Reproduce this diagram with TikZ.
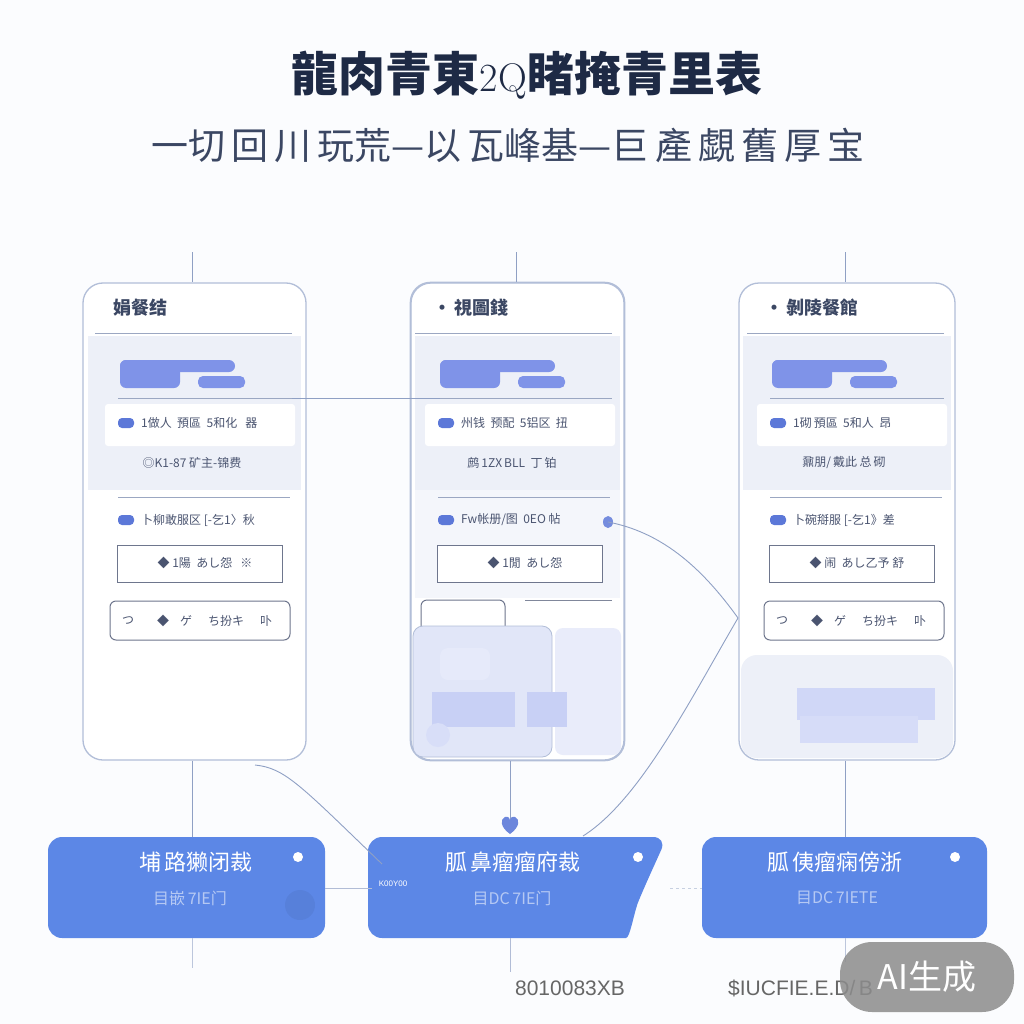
\documentclass[tikz,border=0pt]{standalone}
\usepackage{fontspec}
\newfontfamily\cjk{Noto Sans CJK SC}
\newfontfamily\lsans{Liberation Sans}
\usetikzlibrary{arrows.meta}
\definecolor{bg}{HTML}{FBFCFE}
\definecolor{navy}{HTML}{1E2A45}
\definecolor{subc}{HTML}{3B4763}
\definecolor{frame}{HTML}{B2BED8}
\definecolor{panel}{HTML}{EDF0F8}
\definecolor{pillc}{HTML}{7F93E8}
\definecolor{boxblue}{HTML}{5C87E6}
\definecolor{ink}{HTML}{4A5470}
\definecolor{lav}{HTML}{E1E6F8}
\definecolor{lavd}{HTML}{C8D0F5}
\definecolor{wire}{HTML}{8FA0C4}
\definecolor{sepc}{HTML}{9BA7C2}
\definecolor{iconc}{HTML}{5C78D8}
\tikzset{
  phone/.style={draw=frame, line width=1.3pt, rounded corners=20pt, fill=white, inner sep=0pt},
  wire/.style={draw=wire, line width=0.9pt},
  sepline/.style={draw=sepc, line width=1pt},
  small/.style={font=\cjk\fontsize{12}{14}\selectfont, text=ink, inner sep=0pt},
  hdr/.style={font=\cjk\bfseries\fontsize{18}{20}\selectfont, text=subc, inner sep=0pt},
  boxtxt/.style={font=\cjk\fontsize{22}{24}\selectfont, text=white, inner sep=0pt},
  boxsub/.style={font=\cjk\fontsize{16}{18}\selectfont, text=white, text opacity=0.55, inner sep=0pt},
  bluebox/.style={fill=boxblue, rounded corners=14pt, inner sep=0pt},
  outbox/.style={draw=ink!80, line width=1pt, fill=white},
}
% #1 prefix, #2 x offset, #3 header, #4 row1, #5 middle line, #6 row2, #7 button
\newcommand\phoneui[7]{%
  \begin{scope}[xshift=#2pt]
  \node[hdr, anchor=west] (#1hdr) at (113,308) {#3};
  \draw[sepline] (95,333) -- (292,333);
  \fill[pillc, rounded corners=6pt] (120,360) rectangle (235,372);
  \fill[pillc, rounded corners=6pt] (120,360) rectangle (180,388);
  \fill[pillc, rounded corners=5pt] (198,376) rectangle (245,388);
  \draw[sepline] (118,398) -- (292,398);
  \fill[white, rounded corners=3pt] (105,404) rectangle (295,446);
  \fill[iconc, rounded corners=4pt] (118,418) rectangle (134,428);
  \node[small, anchor=west] (#1r1) at (141,423) {#4};
  \node[small] (#1mid) at (192,463) {#5};
  \draw[sepline] (118,497) -- (290,497);
  \fill[iconc, rounded corners=4pt] (118,515) rectangle (134,525);
  \node[small, anchor=west] (#1r2) at (141,520) {#6};
  \draw[outbox] (117,545) rectangle (282,582);
  \node[small] (#1btn) at (205,563) {#7};
  \end{scope}
}
\newcommand\tabrow[2]{%
  \begin{scope}[xshift=#2pt]
  \draw[outbox, rounded corners=6pt] (110,601) rectangle (290,640);
  \node[small] (#1t1) at (128,621) {つ};
  \node[small] (#1t2) at (163,621) {◆};
  \node[small] (#1t3) at (186,621) {ゲ};
  \node[small] (#1t4) at (226,621) {ち扮キ};
  \node[small] (#1t5) at (266,621) {卟};
  \end{scope}
}
\begin{document}
\begin{tikzpicture}[x=1pt,y=-1pt]
\useasboundingbox (0,0) rectangle (1024,1024);
\fill[bg] (0,0) rectangle (1024,1024);

% titles
\node[font=\cjk\bfseries\fontsize{47}{50}\selectfont, text=navy, inner sep=0pt] (title) at (527,75)
  {龍肉青東{\normalfont\fontsize{40}{42}\selectfont 2Q}睹掩青里表};
\node[font=\cjk\fontsize{37}{40}\selectfont, text=subc, inner sep=0pt] (subtitle) at (508,145)
  {一切\,回\,川\,玩荒—以\,瓦峰基—巨\,產\,覷\,舊\,厚\,宝};

% phones
\node[phone, minimum width=223pt, minimum height=477pt] (p1) at (194.5,521.5) {};
\node[phone, minimum width=213pt, minimum height=477pt] (p2) at (517.5,521.5) {};
\node[phone, minimum width=216pt, minimum height=477pt] (p3) at (847,521.5) {};

% panels
\fill[panel] (88,336) rectangle (301,490);
\fill[panel] (415,336) rectangle (620,490);
\fill[panel!60!white] (415,490) rectangle (620,598);
\fill[panel] (743,336) rectangle (951,490);
\fill[panel, rounded corners=16pt] (741,655) rectangle (953,758);

\phoneui{a}{0}{娟餐结}{1做人\ \ 預區\ \ 5和化\ \ \ 器}{◎K1-87\ 矿主-锦费}{卜柳敢服区\ [-乞1〉秋}{◆\ 1陽\ \ あし怨\ \ \ ※}
\phoneui{b}{320}{•\,視圖錢}{州钱\ \ 预配\ \ 5铝区\ \ 扭}{鹧\,1ZX\,BLL\ \ 丁\,铂}{Fw帐册/图\ \ 0EO\ 帖}{◆\ 1閒\ \ あし怨}
\phoneui{c}{652}{•\,剝陵餐館}{1砌\,預區\ \ 5和人\ \ 昂}{鼐朋/\,戴此\ 总\,砌}{卜碗搿服\ [-乞1》差}{◆\ 闹\ \ あし乙予\ 舒}

\tabrow{a}{0}
\tabrow{c}{654}

% phone 2 bottom area
\draw[outbox, rounded corners=6pt] (421,600) rectangle (505,650);
\draw[ink!70, line width=1pt] (525,600) -- (612,600);
\fill[lav, draw=frame, line width=0.8pt, rounded corners=10pt] (413,626) rectangle (552,757);
\fill[lav!75!white, rounded corners=8pt] (555,628) rectangle (621,755);
\fill[lavd] (432,692) rectangle (515,727);
\fill[lavd] (527,692) rectangle (567,727);
\fill[lavd!70] (438,735) circle (12);
\fill[lavd!45, rounded corners=8pt] (440,648) rectangle (490,680);

% phone 3 bottom blocks
\fill[lavd!85] (797,688) rectangle (935,720);
\fill[lavd!75] (800,716) rectangle (918,743);

% phone borders on top
\draw[frame, line width=1.3pt, rounded corners=20pt] (p2.north west) rectangle (p2.south east);

% top stubs
\coordinate (t1) at (192,252);
\coordinate (t2) at (516,252);
\coordinate (t3) at (845,252);
\draw[wire] (t1) -- (t1 |- p1.north);
\draw[wire] (t2) -- (t2 |- p2.north);
\draw[wire] (t3) -- (t3 |- p3.north);

% blue boxes
\node[bluebox, minimum width=277pt, minimum height=101pt] (b1) at (186.5,887.5) {};
\fill[boxblue, rounded corners=14pt] (368,837) -- (667,837) -- (644,888)
   .. controls (634,912) and (630,938) .. (612,938) -- (368,938) -- cycle;
\coordinate (b2) at (515,887.5);
\node[bluebox, minimum width=285pt, minimum height=101pt] (b3) at (844.5,887.5) {};
\fill[black, opacity=0.05] (300,905) circle (15);

\node[boxtxt] (b1t) at (196,862) {埔\,路獭闭裁};
\node[boxsub] (b1s) at (190,898) {目嵌\,7IE门};
\node[boxtxt] (b2t) at (513,862) {胍\,鼻瘤瘤府裁};
\node[boxsub] (b2s) at (512,898) {目DC\,7IE门};
\node[boxtxt] (b3t) at (835,862) {胍\,侇瘤痫傍浙};
\node[boxsub] (b3s) at (837,898) {目DC\,7IETE};
\fill[white] (298,857) circle (5);
\fill[white] (638,857) circle (5);
\fill[white] (955,857) circle (5);

% vertical connectors phones -> boxes
\draw[wire] (p1.south -| 192,0) -- (b1.north -| 192,0);
\draw[wire] (p3.south -| 845,0) -- (b3.north -| 845,0);
\coordinate (h) at (510,834);
\draw[wire] (p2.south -| 510,0) -- (510,822);
\fill[iconc!90] (h) .. controls (500,827) and (500,819) .. (505,817) .. controls (508,816) and (510,818) .. (510,821)
   .. controls (510,818) and (512,816) .. (515,817) .. controls (520,819) and (520,827) .. (h);

% stubs below boxes
\draw[wire!60] (b1.south -| 192,0) -- (192,968);
\draw[wire!70] (510,938) -- (510,972);
\draw[wire!60] (b3.south -| 845,0) -- (845,962);

% horizontal links between boxes
\draw[wire!70] (b1.east |- 0,888) -- (372,888);
\node[font=\lsans\fontsize{8}{9}\selectfont, text=white, inner sep=0pt] (k) at (393,884) {K00Y00};
\draw[wire!50, dashed] (670,888) -- (b3.west |- 0,888);

% link phone1 -> phone2
\coordinate (c1) at (292,398);
\coordinate (c2) at (440,398);
\draw[wire] (c1) -- (c2);

% curve phone1 bottom -> box2
\coordinate (d1) at (255,765);
\coordinate (d2) at (382,864);
\draw[wire] (d1) .. controls (285,768) and (300,785) .. (d2);

% curve phone2 dot -> phone3 -> box2
\coordinate (e1) at (608,522);
\coordinate (e2) at (738,618);
\coordinate (e3) at (583,836);
\fill[iconc!85] (e1) ellipse (5 and 6);
\draw[wire] (e1) .. controls (660,532) and (700,565) .. (e2);
\draw[wire] (e2) .. controls (690,700) and (640,800) .. (e3);

% bottom labels
\node[font=\lsans\fontsize{21}{24}\selectfont, text=black!60, inner sep=0pt] (l1) at (570,988) {8010083XB};
\node[font=\lsans\fontsize{21}{24}\selectfont, text=black!60, inner sep=0pt, anchor=west] (l2) at (728,988) {\$IUCFIE.E.D/\,B};

% watermark
\fill[black!45, opacity=0.85, rounded corners=32pt] (840,942) rectangle (1014,1012);
\node[font=\cjk\fontsize{34}{38}\selectfont, text=white, inner sep=0pt] (wm) at (927,977) {AI生成};
\end{tikzpicture}
\end{document}
